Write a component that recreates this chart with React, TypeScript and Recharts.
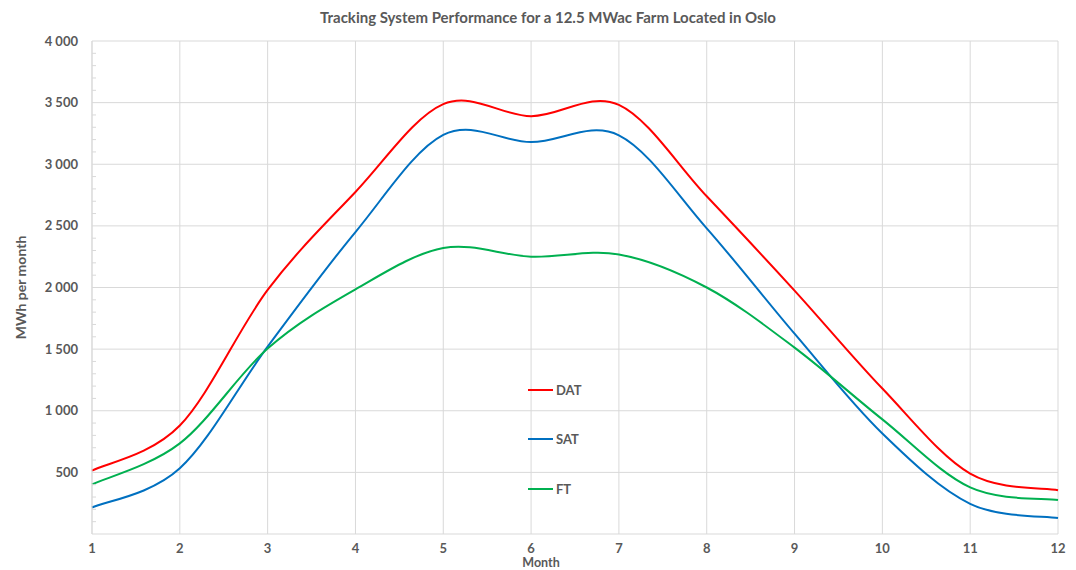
import { LineChart, Line, XAxis, YAxis, CartesianGrid, Legend } from 'recharts';

document.body.style.margin = '0';

const months = [1, 2, 3, 4, 5, 6, 7, 8, 9, 10, 11, 12];
const dat = [515, 880, 1980, 2775, 3488, 3390, 3482, 2740, 1975, 1180, 490, 355];
const sat = [215, 533, 1520, 2450, 3238, 3180, 3235, 2480, 1625, 815, 245, 130];
const ft = [403, 735, 1505, 1985, 2320, 2250, 2268, 2000, 1512, 930, 378, 275];

const yMax = 4000;
const yMajor = [500, 1000, 1500, 2000, 2500, 3000, 3500, 4000];
const yAll = Array.from({ length: 41 }, (_, i) => i * 100);

const TEXT = '#595959';
const GRID = '#d9d9d9';
const FONT = 'Lato, "Open Sans", sans-serif';

const data = months.map((m, i) => ({ month: m, DAT: dat[i], SAT: sat[i], FT: ft[i] }));

// smoothing similar to the spreadsheet "smoothed line" (Catmull-Rom bezier)
function smoothCurve(context: any) {
  let pts: number[][] = [];
  return {
    areaStart() {},
    areaEnd() {},
    lineStart() {
      pts = [];
    },
    point(x: number, y: number) {
      pts.push([+x, +y]);
    },
    lineEnd() {
      const n = pts.length;
      if (!n) return;
      context.moveTo(pts[0][0], pts[0][1]);
      for (let i = 0; i < n - 1; i++) {
        const p0 = pts[Math.max(i - 1, 0)];
        const p1 = pts[i];
        const p2 = pts[i + 1];
        const p3 = pts[Math.min(i + 2, n - 1)];
        context.bezierCurveTo(
          p1[0] + (p2[0] - p0[0]) / 6,
          p1[1] + (p2[1] - p0[1]) / 6,
          p2[0] - (p3[0] - p1[0]) / 6,
          p2[1] - (p3[1] - p1[1]) / 6,
          p2[0],
          p2[1],
        );
      }
    },
  };
}

function YTick(props: any) {
  const { x, y, payload } = props;
  const v = payload.value;
  if (v === 0) return null;
  if (v % 500 === 0) {
    return (
      <text x={x - 6} y={y} dy={4.5} textAnchor="end" fill={TEXT} fontSize={13} fontWeight={700} fontFamily={FONT}>
        {v.toLocaleString('en-US').replace(/,/g, ' ')}
      </text>
    );
  }
  return <line x1={x + 8} x2={x + 12} y1={y} y2={y} stroke={GRID} strokeWidth={1} />;
}

const legendItems = [
  { name: 'DAT', color: '#ff0000' },
  { name: 'SAT', color: '#0070c0' },
  { name: 'FT', color: '#00b050' },
];

function LegendBox() {
  return (
    <div style={{ fontFamily: FONT }}>
      {legendItems.map((it) => (
        <div key={it.name} style={{ display: 'flex', alignItems: 'center', height: 49.5 }}>
          <span style={{ display: 'inline-block', width: 25, height: 2, background: it.color }} />
          <span style={{ marginLeft: 3, color: TEXT, fontSize: 13, fontWeight: 700 }}>{it.name}</span>
        </div>
      ))}
    </div>
  );
}

export default function App() {
  return (
    <div style={{ position: 'relative', width: 1076, height: 570, background: '#fff' }}>
      <LineChart width={1076} height={570} data={data} margin={{ top: 41, right: 18, left: 32, bottom: 6 }}>
        <CartesianGrid
          stroke={GRID}
          strokeWidth={1}
          horizontalCoordinatesGenerator={({ offset }: any) =>
            yMajor.map((v) => offset.top + offset.height * (1 - v / yMax))
          }
          verticalCoordinatesGenerator={({ offset }: any) =>
            months.map((m) => offset.left + (offset.width * (m - months[0])) / (months[months.length - 1] - months[0]))
          }
        />
        <XAxis
          dataKey="month"
          type="number"
          domain={[1, 12]}
          ticks={months}
          interval={0}
          axisLine={{ stroke: GRID }}
          tickLine={false}
          height={30}
          tick={{ fill: TEXT, fontSize: 13, fontWeight: 700, fontFamily: FONT }}
          tickMargin={4}
        />
        <YAxis
          type="number"
          domain={[0, yMax]}
          ticks={yAll}
          interval={0}
          width={60}
          axisLine={{ stroke: GRID }}
          tickLine={false}
          tick={<YTick />}
          label={{
            value: 'MWh per month',
            angle: -90,
            position: 'insideLeft',
            offset: -11,
            style: { textAnchor: 'middle' },
            fill: TEXT,
            fontSize: 14,
            fontWeight: 700,
            fontFamily: FONT,
          }}
        />
        <Legend
          layout="vertical"
          align="center"
          verticalAlign="middle"
          content={<LegendBox />}
          wrapperStyle={{ position: 'absolute', left: 528, top: 365, width: 80 }}
        />
        <Line type={smoothCurve as any} dataKey="DAT" stroke="#ff0000" strokeWidth={2} dot={false} isAnimationActive={false} />
        <Line type={smoothCurve as any} dataKey="SAT" stroke="#0070c0" strokeWidth={2} dot={false} isAnimationActive={false} />
        <Line type={smoothCurve as any} dataKey="FT" stroke="#00b050" strokeWidth={2} dot={false} isAnimationActive={false} />
        <text x={548} y={23} textAnchor="middle" fill={TEXT} fontSize={15} fontWeight={700} fontFamily={FONT}>
          Tracking System Performance for a 12.5 MWac Farm Located in Oslo
        </text>
        <text x={541} y={567} textAnchor="middle" fill={TEXT} fontSize={12.5} fontWeight={700} fontFamily={FONT}>
          Month
        </text>
      </LineChart>
    </div>
  );
}
